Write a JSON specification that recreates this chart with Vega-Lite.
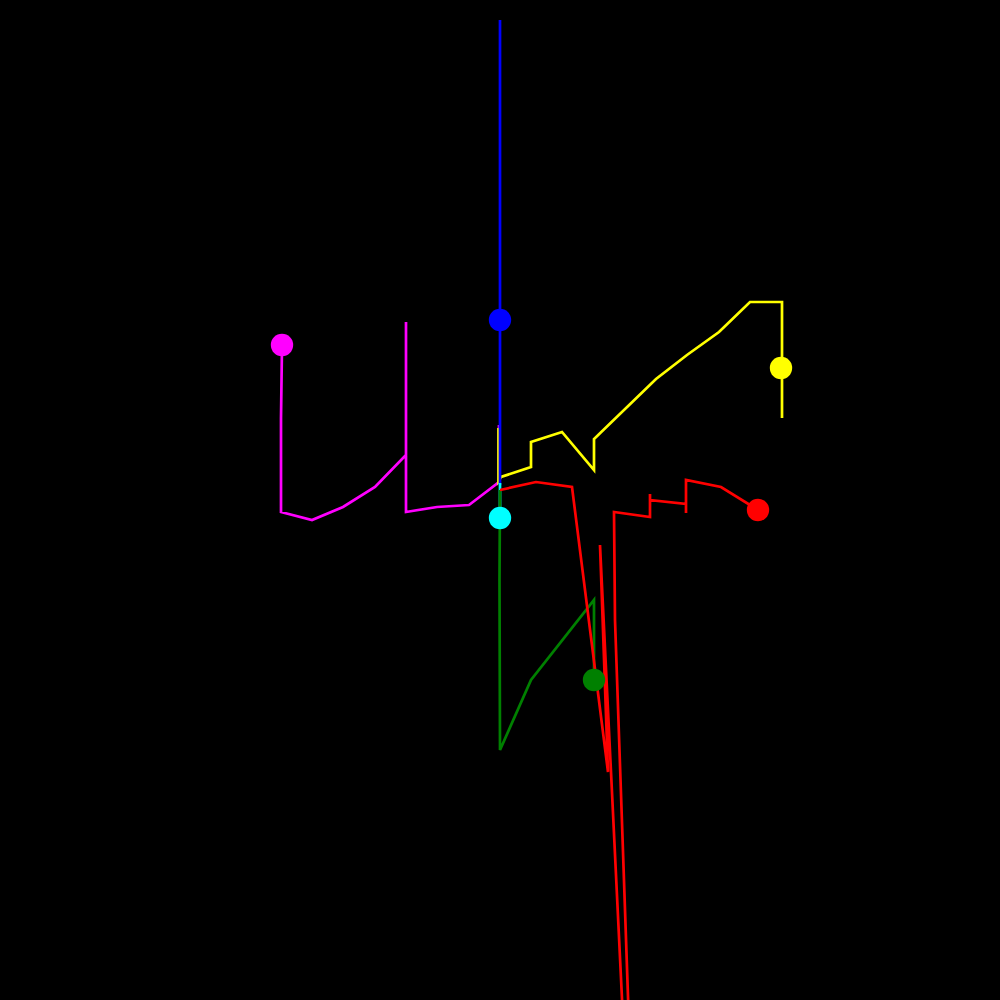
{
  "$schema": "https://vega.github.io/schema/vega-lite/v6.json",
  "width": 1000,
  "height": 1000,
  "padding": 0,
  "autosize": {"type": "fit", "contains": "padding"},
  "background": "black",
  "config": {"view": {"stroke": null}},
  "datasets": {
    "paths": [
      {"s": "m", "i": 0, "x": -1, "y": 75},
      {"s": "m", "i": 1, "x": -1, "y": 18},
      {"s": "m", "i": 2, "x": -31, "y": -5},
      {"s": "m", "i": 3, "x": -63, "y": -7},
      {"s": "m", "i": 4, "x": -94, "y": -12},
      {"s": "m", "i": 5, "x": -94, "y": 178},
      {"s": "m", "i": 6, "x": -94, "y": 45},
      {"s": "m", "i": 7, "x": -125, "y": 13},
      {"s": "m", "i": 8, "x": -157, "y": -7},
      {"s": "m", "i": 9, "x": -188, "y": -20},
      {"s": "m", "i": 10, "x": -219, "y": -12},
      {"s": "m", "i": 11, "x": -219, "y": 82},
      {"s": "m", "i": 12, "x": -218, "y": 155},
      {"s": "y", "i": 0, "x": -1.5, "y": 72},
      {"s": "y", "i": 1, "x": -1.5, "y": 19},
      {"s": "y", "i": 2, "x": 1, "y": 23},
      {"s": "y", "i": 3, "x": 31, "y": 33},
      {"s": "y", "i": 4, "x": 31, "y": 58},
      {"s": "y", "i": 5, "x": 62, "y": 68},
      {"s": "y", "i": 6, "x": 94, "y": 30},
      {"s": "y", "i": 7, "x": 94, "y": 61},
      {"s": "y", "i": 8, "x": 156, "y": 121},
      {"s": "y", "i": 9, "x": 187, "y": 145},
      {"s": "y", "i": 10, "x": 219, "y": 168},
      {"s": "y", "i": 11, "x": 250, "y": 198},
      {"s": "y", "i": 12, "x": 282, "y": 198},
      {"s": "y", "i": 13, "x": 282, "y": 82},
      {"s": "b", "i": 0, "x": 0, "y": 480},
      {"s": "b", "i": 1, "x": 0, "y": 15},
      {"s": "c", "i": 0, "x": 0, "y": 17},
      {"s": "c", "i": 1, "x": 0, "y": -18},
      {"s": "g", "i": 0, "x": 0, "y": 10},
      {"s": "g", "i": 1, "x": -0.5, "y": -80},
      {"s": "g", "i": 2, "x": 0, "y": -250},
      {"s": "g", "i": 3, "x": 31, "y": -180},
      {"s": "g", "i": 4, "x": 94, "y": -100},
      {"s": "g", "i": 5, "x": 94, "y": -180},
      {"s": "r", "i": 0, "x": 0, "y": 10},
      {"s": "r", "i": 1, "x": 36, "y": 18},
      {"s": "r", "i": 2, "x": 72, "y": 13},
      {"s": "r", "i": 3, "x": 108, "y": -272},
      {"s": "r", "i": 4, "x": 100, "y": -45},
      {"s": "r", "i": 5, "x": 124, "y": -540},
      {"s": "r", "i": 6, "x": 129.5, "y": -540},
      {"s": "r", "i": 7, "x": 115, "y": -120},
      {"s": "r", "i": 8, "x": 114, "y": -12},
      {"s": "r", "i": 9, "x": 150, "y": -17},
      {"s": "r", "i": 10, "x": 150, "y": 6},
      {"s": "r", "i": 11, "x": 150, "y": 0},
      {"s": "r", "i": 12, "x": 186, "y": -4},
      {"s": "r", "i": 13, "x": 186, "y": -13},
      {"s": "r", "i": 14, "x": 186, "y": 20},
      {"s": "r", "i": 15, "x": 221, "y": 13},
      {"s": "r", "i": 16, "x": 258, "y": -10}
    ],
    "dots": [
      {"s": "m", "x": -218, "y": 155},
      {"s": "y", "x": 281, "y": 132},
      {"s": "b", "x": 0, "y": 180},
      {"s": "c", "x": 0, "y": -18},
      {"s": "g", "x": 94, "y": -180},
      {"s": "r", "x": 258, "y": -10}
    ]
  },
  "layer": [
    {
      "data": {"name": "paths"},
      "mark": {"type": "line", "strokeWidth": 2.7, "clip": true},
      "encoding": {
        "x": {"field": "x", "type": "quantitative", "scale": {"domain": [-500, 500]}, "axis": null},
        "y": {"field": "y", "type": "quantitative", "scale": {"domain": [-500, 500]}, "axis": null},
        "color": {"field": "s", "type": "nominal", "legend": null,
          "scale": {"domain": ["m", "y", "b", "c", "g", "r"], "range": ["#ff00ff", "#ffff00", "#0000ff", "#00ffff", "#008000", "#ff0000"]}},
        "order": {"field": "i", "type": "quantitative"}
      }
    },
    {
      "data": {"name": "dots"},
      "mark": {"type": "circle", "size": 500, "opacity": 1},
      "encoding": {
        "x": {"field": "x", "type": "quantitative", "scale": {"domain": [-500, 500]}, "axis": null},
        "y": {"field": "y", "type": "quantitative", "scale": {"domain": [-500, 500]}, "axis": null},
        "color": {"field": "s", "type": "nominal", "legend": null,
          "scale": {"domain": ["m", "y", "b", "c", "g", "r"], "range": ["#ff00ff", "#ffff00", "#0000ff", "#00ffff", "#008000", "#ff0000"]}}
      }
    }
  ]
}
